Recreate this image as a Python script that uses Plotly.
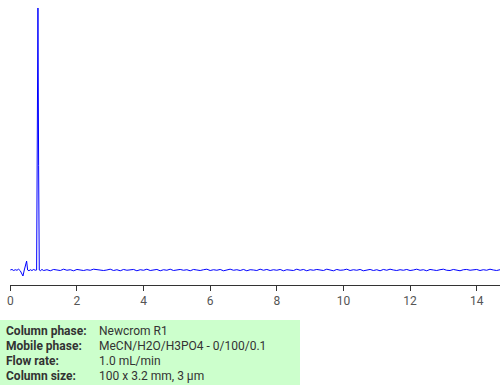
import numpy as np
import plotly.graph_objects as go

# Early part of the chromatogram (time in min, signal in arbitrary units)
early_t = [0.00, 0.05, 0.10, 0.15, 0.20, 0.25, 0.30, 0.35, 0.38, 0.42, 0.46, 0.49,
           0.52, 0.56, 0.60, 0.65, 0.70, 0.75, 0.79, 0.81, 0.83, 0.85, 0.87, 0.90, 0.95]
early_v = [0, 2, -2, 1, -1, 3, -3, -15, -23, 0, 25, 34,
           0, -3, 1, -2, 2, -1, 0, 500, 1000, 400, 0, -3, 2]

# Baseline from 1.0 to 14.7 min, every 0.1 min
base_start = 1.0
base_step = 0.1
base_v = [-2, 1, -3, 2, 0, -2, 3, -1, 1, -3,
          2, 0, -2, 1, -1, 3, 2, 1, -2, 0,
          3, -2, 1, -3, 2, -1, 0, 2, -3, 1,
          -1, 3, -2, 0, 2, -3, 1, -1, 3, -2,
          0, 2, -1, 1, -3, 2, 0, -2, 1, 3,
          -2, 1, -1, 2, -3, 0, 3, -1, 1, -2,
          2, -3, 1, 0, -2, 3, -1, 2, -2, 1,
          -1, 2, -3, 1, 0, -2, 3, -1, 2, -3,
          1, -1, 2, 0, -2, 3, 1, -3, 2, -1,
          0, 3, -2, 1, -1, 2, -3, 0, 2, -2,
          1, -3, 2, -1, 3, 0, -2, 1, -1, 2,
          -2, 0, 3, -1, 1, -3, 2, 0, -2, 1,
          3, -1, -2, 2, 0, -3, 1, 2, -1, 0,
          2, -2, 1, -1, 3, 0, -2, 1]
base_t = [round(base_start + i * base_step, 2) for i in range(len(base_v))]

tick_vals = [0, 2, 4, 6, 8, 10, 12, 14]

info_labels = ["Column phase:", "Mobile phase:", "Flow rate:", "Column size:"]
info_values = ["Newcrom R1", "MeCN/H2O/H3PO4 - 0/100/0.1", "1.0 mL/min", "100 x 3.2 mm, 3 µm"]

t = early_t + base_t
v = early_v + base_v

fig = go.Figure()
fig.add_trace(go.Scatter(x=t, y=v, mode="lines",
                         line=dict(color="#0000ff", width=1),
                         hoverinfo="skip", showlegend=False))

W, H = 500, 385
ml, mr, mt, mb = 10, 0, 0, 100
pw, ph = W - ml - mr, H - mt - mb

def px_x(p):
    return (p - ml) / pw

def px_y(p):
    return (H - mb - p) / ph

shapes = [dict(type="rect", xref="paper", yref="paper",
               x0=px_x(0), x1=px_x(300), y0=px_y(320), y1=px_y(385),
               fillcolor="#ccffcc", line=dict(width=0), layer="below")]

annotations = []
row_y = [330.5, 346, 361, 376]
for lab, val, ry in zip(info_labels, info_values, row_y):
    annotations.append(dict(xref="paper", yref="paper", x=px_x(4), y=px_y(ry),
                            xanchor="left", yanchor="middle", showarrow=False,
                            text="<b>" + lab + "</b>",
                            font=dict(family="Roboto", size=12, color="#333333")))
    annotations.append(dict(xref="paper", yref="paper", x=px_x(97), y=px_y(ry),
                            xanchor="left", yanchor="middle", showarrow=False,
                            text=val,
                            font=dict(family="Roboto", size=12, color="#333333")))

fig.update_layout(
    width=W, height=H,
    margin=dict(l=ml, r=mr, t=mt, b=mb),
    paper_bgcolor="white", plot_bgcolor="white",
    font=dict(family="Roboto", size=12, color="#555555"),
    xaxis=dict(range=[-0.009, 14.70], tickvals=tick_vals,
               ticks="outside", ticklen=5, tickcolor="#333333",
               showline=True, linecolor="#333333", linewidth=1,
               showgrid=False, zeroline=False,
               tickfont=dict(family="Roboto", size=12, color="#555555")),
    yaxis=dict(range=[-57.3, 1030.5], visible=False, showgrid=False, zeroline=False),
    shapes=shapes, annotations=annotations,
)

fig.write_html("out.html")
